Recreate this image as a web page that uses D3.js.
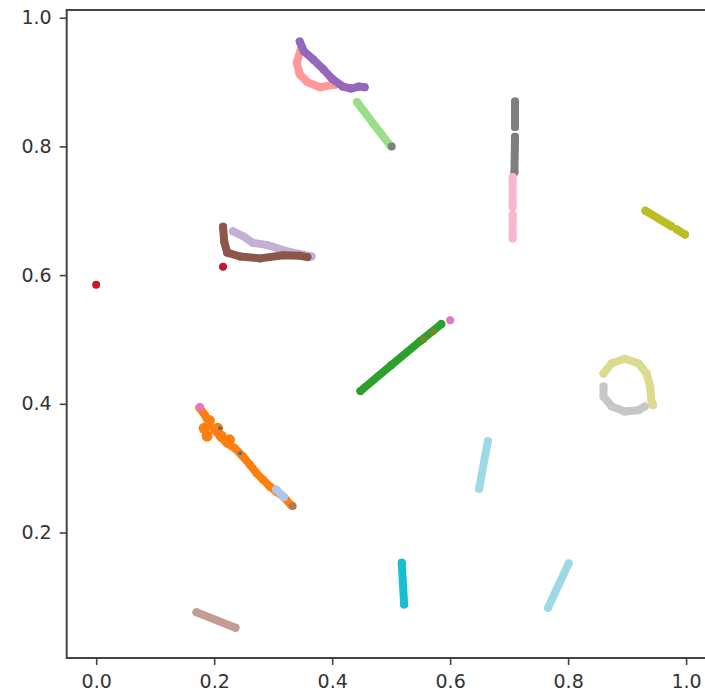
<!DOCTYPE html>
<head>
  <meta charset="utf-8">
  <script src="https://d3js.org/d3.v7.min.js"></script>
  <style>
    body { margin:0; background:#fff; }
    .tick text { font-family: "DejaVu Sans", sans-serif; }
  </style>
</head>
<body>
<script>

/* Data: point trajectories */
/* ============================================= */

var xTicks = [0.0, 0.2, 0.4, 0.6, 0.8, 1.0];
var yTicks = [0.2, 0.4, 0.6, 0.8, 1.0];

var trkSalmon   = [[0.348,0.955],[0.340,0.930],[0.345,0.912],[0.358,0.900],[0.379,0.892],[0.405,0.896]];
var trkPurple   = [[0.345,0.963],[0.352,0.948],[0.368,0.935],[0.385,0.920],[0.400,0.905],[0.418,0.893],[0.432,0.890],[0.445,0.893],[0.455,0.892]];
var trkLtGreen  = [[0.442,0.869],[0.470,0.835],[0.498,0.802]];
var trkGrayDot  = [[0.501,0.800]];
var trkGrayA    = [[0.710,0.870],[0.710,0.830]];
var trkGrayB    = [[0.710,0.815],[0.709,0.760]];
var trkPinkA    = [[0.706,0.752],[0.706,0.706]];
var trkPinkB    = [[0.706,0.694],[0.706,0.657]];
var trkOliveA   = [[0.931,0.700],[0.975,0.676]];
var trkOliveB   = [[0.984,0.671],[0.998,0.663]];
var trkLtPurple = [[0.232,0.668],[0.250,0.660],[0.266,0.650],[0.289,0.647],[0.328,0.636],[0.365,0.629]];
var trkBrown    = [[0.215,0.675],[0.217,0.652],[0.222,0.635],[0.244,0.629],[0.278,0.626],[0.317,0.631],[0.345,0.630],[0.358,0.628]];
var trkRedA     = [[0.215,0.613]];
var trkRedB     = [[0.000,0.585]];
var trkGreen    = [[0.448,0.420],[0.500,0.460],[0.550,0.498],[0.585,0.524]];
var trkOliveDots= [[0.555,0.500],[0.571,0.512]];
var trkPinkDot  = [[0.600,0.530]];
var trkLtOlive  = [[0.860,0.447],[0.874,0.463],[0.896,0.470],[0.919,0.463],[0.933,0.447],[0.939,0.427],[0.941,0.406],[0.944,0.398]];
var trkLtGray   = [[0.860,0.427],[0.860,0.411],[0.874,0.396],[0.896,0.388],[0.919,0.390],[0.930,0.396]];
var trkLtCyanA  = [[0.664,0.342],[0.649,0.268]];
var trkLtCyanB  = [[0.801,0.152],[0.766,0.083]];
var trkCyan     = [[0.518,0.153],[0.522,0.088]];
var trkMauve    = [[0.170,0.076],[0.236,0.052]];
var trkOrange   = [[0.175,0.394],[0.184,0.383],[0.193,0.367],[0.201,0.359],[0.213,0.347],[0.221,0.339],[0.235,0.331],[0.249,0.318],[0.261,0.305],[0.272,0.292],[0.283,0.282],[0.295,0.271],[0.306,0.263],[0.317,0.256],[0.330,0.243]];
var trkOrangeBlob = [[0.183,0.362],[0.192,0.374],[0.188,0.350],[0.206,0.362],[0.212,0.350],[0.226,0.344]];
var trkLtBlue   = [[0.305,0.267],[0.318,0.255]];
var trkBlue     = [[0.210,0.362],[0.244,0.323]];
var trkTan      = [[0.333,0.241]];
var trkPinkTop  = [[0.176,0.395]];

// colours (matplotlib tab20), drawn in this order; third entry: dots only
var seriesList = [
  [trkSalmon,   '#ff9896'],
  [trkPurple,   '#9467bd'],
  [trkLtGreen,  '#98df8a'],
  [trkGrayDot,  '#7f7f7f'],
  [trkGrayA,    '#7f7f7f'],
  [trkGrayB,    '#7f7f7f'],
  [trkPinkA,    '#f7b6d2'],
  [trkPinkB,    '#f7b6d2'],
  [trkOliveA,   '#bcbd22'],
  [trkOliveB,   '#bcbd22'],
  [trkLtPurple, '#c5b0d5'],
  [trkBrown,    '#8c564b'],
  [trkRedA,     '#c0182e'],
  [trkRedB,     '#c0182e'],
  [trkGreen,    '#2ca02c'],
  [trkOliveDots,'#6f8a1e', true],
  [trkPinkDot,  '#e377c2'],
  [trkLtOlive,  '#dbdb8d'],
  [trkLtGray,   '#c7c7c7'],
  [trkLtCyanA,  '#9edae5'],
  [trkLtCyanB,  '#9edae5'],
  [trkCyan,     '#17becf'],
  [trkMauve,    '#c49c94'],
  [trkOrange,   '#ff7f0e'],
  [trkOrangeBlob,'#ff7f0e', true],
  [trkLtBlue,   '#aec7e8'],
  [trkBlue,     '#4a6f9a', true],
  [trkTan,      '#b07a52'],
  [trkPinkTop,  '#e377c2']
];


/* Set up */
/* ====== */

var width = 705,
    height = 694;

var x = d3.scaleLinear().domain([-0.05, 1.05]).range([66.7, 715.6]);
var y = d3.scaleLinear().domain([0.005, 1.012]).range([658, 10]);

var svg = d3.select('body')
  .append('svg')
    .attr('width', width)
    .attr('height', height)
    .style('background', '#fff');

var line = d3.line()
    .x(function(d) { return x(d[0]); })
    .y(function(d) { return y(d[1]); });

var dotR = 4;

function radius(pts) {
  if (pts === trkOrangeBlob) return 5.5;
  if (pts === trkBlue) return 2;
  if (pts === trkOliveDots) return 3.5;
  return dotR;
}

// draw each trajectory as a thick round-capped line plus its dots
seriesList.forEach(function(s) {
  var pts = s[0], col = s[1], dotsOnly = s[2];
  var g = svg.append('g');
  if (pts.length > 1 && !dotsOnly) {
    g.append('path')
      .datum(pts)
      .attr('d', line)
      .attr('fill', 'none')
      .attr('stroke', col)
      .attr('stroke-width', dotR * 2)
      .attr('stroke-linecap', 'round')
      .attr('stroke-linejoin', 'round');
  }
  g.selectAll('circle')
    .data(pts)
    .enter().append('circle')
      .attr('cx', function(d) { return x(d[0]); })
      .attr('cy', function(d) { return y(d[1]); })
      .attr('r', radius(pts))
      .attr('fill', col);
});


/* Axes */
/* ==== */

var axisCol = '#444';

// frame (matplotlib-style box; right side falls outside the window)
svg.append('rect')
    .attr('x', x(-0.05))
    .attr('y', y(1.012))
    .attr('width', x(1.05) - x(-0.05))
    .attr('height', y(0.005) - y(1.012))
    .attr('fill', 'none')
    .attr('stroke', axisCol)
    .attr('stroke-width', 2);

var xAxis = svg.append('g')
    .attr('transform', 'translate(0,' + y(0.005) + ')')
    .call(d3.axisBottom(x).tickValues(xTicks).tickFormat(d3.format('.1f'))
      .tickSize(7).tickPadding(10));

var yAxis = svg.append('g')
    .attr('transform', 'translate(' + x(-0.05) + ',0)')
    .call(d3.axisLeft(y).tickValues(yTicks).tickFormat(d3.format('.1f'))
      .tickSize(7).tickPadding(8));

[xAxis, yAxis].forEach(function(a) {
  a.select('.domain').remove();
  a.selectAll('.tick line').attr('stroke', axisCol).attr('stroke-width', 1.6);
  a.selectAll('.tick text').attr('fill', '#333').style('font-size', '19px');
});

</script>
</body>
